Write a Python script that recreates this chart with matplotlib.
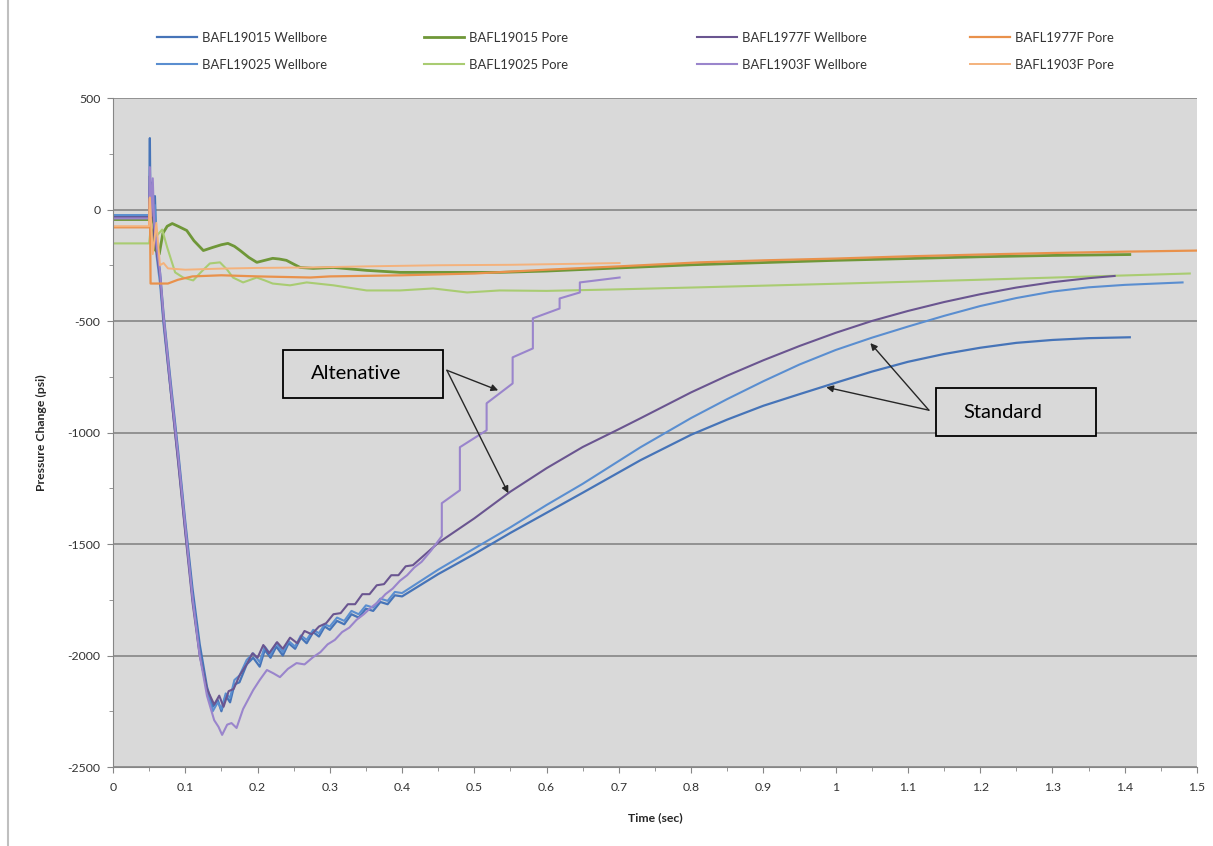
import matplotlib
matplotlib.use('Agg')
import matplotlib.pyplot as plt
from matplotlib.ticker import MultipleLocator, FuncFormatter
from matplotlib.lines import Line2D
from matplotlib.patches import Rectangle

plt.rcParams['font.family'] = ['Lato', 'DejaVu Sans']

# ---- data (time in sec, pressure change in psi) ----
t_19015_wb = [0.000, 0.050, 0.051, 0.052, 0.054, 0.056, 0.058, 0.060, 0.065, 0.070,
              0.080, 0.090, 0.100, 0.110, 0.120, 0.130, 0.138, 0.145, 0.150, 0.156,
              0.162, 0.168, 0.175, 0.185, 0.194, 0.203, 0.210, 0.218, 0.226, 0.235,
              0.243, 0.252, 0.260, 0.268, 0.277, 0.285, 0.293, 0.300, 0.310, 0.320,
              0.330, 0.340, 0.350, 0.360, 0.370, 0.380, 0.390, 0.400, 0.450, 0.500,
              0.550, 0.600, 0.650, 0.730, 0.800, 0.850, 0.900, 0.950, 1.000, 1.050,
              1.100, 1.150, 1.200, 1.250, 1.300, 1.350, 1.407]
p_19015_wb = [-30, -30, 320, -60, 120, -80, 60, -150, -280, -470,
              -780, -1080, -1400, -1700, -1950, -2140, -2230, -2200, -2250, -2180,
              -2210, -2130, -2120, -2040, -2010, -2050, -1975, -2010, -1960, -2000,
              -1945, -1970, -1920, -1945, -1895, -1915, -1870, -1885, -1845, -1860,
              -1815, -1830, -1790, -1800, -1760, -1770, -1730, -1735, -1635, -1545,
              -1450, -1360, -1270, -1124, -1010, -942, -880, -828, -777, -727,
              -683, -648, -620, -598, -585, -577, -573]

t_19025_wb = [0.000, 0.050, 0.051, 0.052, 0.054, 0.056, 0.058, 0.060, 0.065, 0.070,
              0.080, 0.090, 0.100, 0.110, 0.120, 0.130, 0.138, 0.145, 0.150, 0.156,
              0.162, 0.168, 0.175, 0.185, 0.194, 0.203, 0.210, 0.218, 0.226, 0.235,
              0.243, 0.252, 0.260, 0.268, 0.277, 0.285, 0.293, 0.300, 0.310, 0.320,
              0.330, 0.340, 0.350, 0.360, 0.370, 0.380, 0.390, 0.400, 0.450, 0.500,
              0.550, 0.600, 0.650, 0.730, 0.800, 0.850, 0.900, 0.950, 1.000, 1.050,
              1.100, 1.150, 1.200, 1.250, 1.300, 1.350, 1.400, 1.480]
p_19025_wb = [-25, -25, 100, -120, 60, -160, 20, -200, -330, -520,
              -820, -1120, -1440, -1740, -1990, -2160, -2250, -2210, -2240, -2170,
              -2190, -2110, -2090, -2020, -1990, -2030, -1960, -1995, -1945, -1985,
              -1935, -1960, -1910, -1930, -1885, -1900, -1860, -1870, -1830, -1845,
              -1800, -1815, -1775, -1785, -1745, -1755, -1715, -1720, -1615, -1520,
              -1425, -1325, -1230, -1066, -935, -850, -770, -695, -630, -575,
              -525, -477, -433, -397, -368, -349, -338, -327]

t_1977f_wb = [0.000, 0.050, 0.051, 0.053, 0.055, 0.057, 0.060, 0.065, 0.070, 0.080,
              0.090, 0.100, 0.110, 0.120, 0.130, 0.140, 0.147, 0.153, 0.160, 0.167,
              0.175, 0.185, 0.193, 0.200, 0.208, 0.216, 0.227, 0.235, 0.245, 0.255,
              0.265, 0.275, 0.285, 0.295, 0.305, 0.315, 0.325, 0.335, 0.345, 0.355,
              0.365, 0.375, 0.385, 0.395, 0.405, 0.415, 0.450, 0.500, 0.550, 0.600,
              0.650, 0.700, 0.730, 0.800, 0.850, 0.900, 0.950, 1.000, 1.050, 1.100,
              1.150, 1.200, 1.250, 1.300, 1.350, 1.386]
p_1977f_wb = [-35, -35, 150, -50, 100, -120, -180, -300, -500, -820,
              -1130, -1450, -1760, -2000, -2150, -2220, -2180, -2230, -2160, -2150,
              -2090, -2040, -1990, -2010, -1953, -1990, -1940, -1970, -1920, -1945,
              -1890, -1905, -1870, -1855, -1815, -1810, -1770, -1770, -1725, -1725,
              -1685, -1680, -1640, -1640, -1600, -1595, -1495, -1385, -1265, -1160,
              -1065, -985, -936, -820, -745, -676, -612, -553, -500, -455,
              -415, -380, -350, -326, -308, -298]

t_1903f_wb = [0.000, 0.050, 0.051, 0.053, 0.055, 0.057, 0.060, 0.065, 0.070, 0.080,
              0.090, 0.100, 0.110, 0.120, 0.130, 0.140, 0.146, 0.151, 0.158, 0.164,
              0.171, 0.180, 0.194, 0.203, 0.213, 0.222, 0.231, 0.242, 0.254, 0.265,
              0.277, 0.287, 0.297, 0.307, 0.317, 0.327, 0.337, 0.347, 0.357, 0.367,
              0.377, 0.387, 0.397, 0.407, 0.417, 0.427, 0.440, 0.455, 0.455, 0.480,
              0.480, 0.517, 0.517, 0.553, 0.553, 0.581, 0.581, 0.618, 0.618, 0.646,
              0.646, 0.701]
p_1903f_wb = [-40, -40, 190, -30, 140, -60, -150, -280, -480, -800,
              -1100, -1420, -1740, -2000, -2180, -2290, -2320, -2356, -2310, -2303,
              -2325, -2240, -2155, -2110, -2065, -2080, -2097, -2060, -2034, -2040,
              -2007, -1985, -1950, -1930, -1895, -1875, -1840, -1815, -1785, -1760,
              -1725, -1700, -1665, -1640, -1605, -1580, -1530, -1465, -1317, -1259,
              -1066, -990, -869, -780, -663, -623, -488, -444, -399, -372,
              -327, -305]

t_19015_pore = [0.000, 0.050, 0.053, 0.058, 0.064, 0.069, 0.075, 0.082, 0.090, 0.102,
                0.112, 0.125, 0.138, 0.150, 0.159, 0.168, 0.176, 0.188, 0.199, 0.210,
                0.221, 0.230, 0.240, 0.250, 0.259, 0.277, 0.305, 0.351, 0.397, 0.443,
                0.535, 0.600, 0.700, 0.800, 0.900, 1.000, 1.100, 1.200, 1.300, 1.407]
p_19015_pore = [-45, -45, 40, -180, -200, -107, -75, -63, -75, -94,
                -140, -184, -170, -158, -152, -165, -184, -215, -237, -228,
                -219, -222, -228, -245, -260, -264, -260, -273, -282, -282,
                -282, -276, -262, -248, -238, -228, -220, -212, -206, -202]

t_19025_pore = [0.000, 0.050, 0.053, 0.060, 0.068, 0.075, 0.086, 0.097, 0.111, 0.122,
                0.134, 0.148, 0.158, 0.166, 0.180, 0.199, 0.210, 0.221, 0.245, 0.268,
                0.305, 0.351, 0.397, 0.443, 0.490, 0.535, 0.600, 0.700, 0.812, 1.000,
                1.200, 1.490]
p_19025_pore = [-152, -152, -60, -120, -90, -170, -282, -305, -318, -280,
                -242, -237, -270, -305, -327, -305, -318, -332, -340, -327,
                -340, -363, -363, -354, -372, -363, -365, -358, -349, -333,
                -315, -287]

t_1977f_pore = [0.000, 0.050, 0.051, 0.052, 0.076, 0.090, 0.110, 0.150, 0.200, 0.273,
                0.300, 0.400, 0.500, 0.600, 0.700, 0.812, 0.900, 1.000, 1.100, 1.200,
                1.300, 1.400, 1.504]
p_1977f_pore = [-80, -80, 50, -332, -332, -315, -300, -295, -300, -305,
                -300, -295, -287, -270, -255, -237, -228, -220, -210, -202,
                -195, -189, -184]

t_1903f_pore = [0.000, 0.050, 0.051, 0.055, 0.060, 0.065, 0.070, 0.076, 0.100, 0.150,
                0.200, 0.273, 0.350, 0.450, 0.550, 0.650, 0.701]
p_1903f_pore = [-75, -75, 54, -200, -60, -250, -240, -264, -270, -265,
                -262, -260, -255, -250, -248, -243, -240]

labels = ['BAFL19015 Wellbore', 'BAFL19025 Wellbore', 'BAFL19015 Pore', 'BAFL19025 Pore',
          'BAFL1977F Wellbore', 'BAFL1903F Wellbore', 'BAFL1977F Pore', 'BAFL1903F Pore']

W, H = 1213, 846
fig = plt.figure(figsize=(W / 100, H / 100), dpi=100)
ax = fig.add_axes([113 / W, 1 - 767 / H, (1197 - 113) / W, (767 - 98) / H])
ax.set_facecolor('#D9D9D9')

series = [
    (t_19015_wb, p_19015_wb, '#4674B8', 1.6),
    (t_19025_wb, p_19025_wb, '#5A8ED0', 1.5),
    (t_19015_pore, p_19015_pore, '#6F9738', 2.0),
    (t_19025_pore, p_19025_pore, '#A9CC72', 1.5),
    (t_1977f_wb, p_1977f_wb, '#6A5590', 1.5),
    (t_1903f_wb, p_1903f_wb, '#9A85CC', 1.5),
    (t_1977f_pore, p_1977f_pore, '#E9914B', 1.6),
    (t_1903f_pore, p_1903f_pore, '#F4B27C', 1.4),
]
handles = []
for (t, p, c, lw), lab in zip(series, labels):
    h, = ax.plot(t, p, color=c, lw=lw, label=lab, solid_joinstyle='round')
    handles.append(h)

ax.set_xlim(0, 1.5)
ax.set_ylim(-2500, 500)
ax.xaxis.set_major_locator(MultipleLocator(0.1))
ax.xaxis.set_minor_locator(MultipleLocator(0.05))
ax.yaxis.set_major_locator(MultipleLocator(500))
ax.yaxis.set_minor_locator(MultipleLocator(250))
ax.xaxis.set_major_formatter(FuncFormatter(lambda v, pos: '%g' % round(v, 2)))
ax.yaxis.set_major_formatter(FuncFormatter(lambda v, pos: '%d' % v))

ax.yaxis.grid(True, which='major', color='#8C8C8C', lw=1.3)
ax.set_axisbelow(True)
for s in ['top', 'right']:
    ax.spines[s].set_visible(False)
for s in ['left', 'bottom']:
    ax.spines[s].set_color('#868686')
ax.tick_params(axis='both', which='major', direction='out', length=4, color='#868686',
               labelsize=8.8, labelcolor='#333333')
ax.tick_params(axis='both', which='minor', direction='out', length=3, color='#868686')
ax.tick_params(axis='y', pad=5)
ax.tick_params(axis='x', pad=7)

ax.set_xlabel('Time (sec)', fontsize=8.8, fontweight='bold', color='#262626')
ax.xaxis.set_label_coords(0.5, -0.068)
ax.set_ylabel('Pressure Change (psi)', fontsize=8.8, fontweight='bold', color='#262626')
ax.yaxis.set_label_coords(-0.061, 0.5)

fig.canvas.draw()
ax.get_ygridlines()[-1].set_visible(False)

# legend, four columns of two rows
col_x = [157, 424, 697, 970]
for i, x in enumerate(col_x):
    fig.legend(handles=handles[2 * i:2 * i + 2], loc='upper left',
               bbox_to_anchor=(x / W, 1 - 32 / H), frameon=False, fontsize=9.4,
               handlelength=3.1, handletextpad=0.35, labelspacing=1.15,
               borderpad=0, borderaxespad=0, labelcolor='#333333')

# callout boxes
ax.add_patch(Rectangle((0.235, -847), 0.222, 215, facecolor='#D9D9D9',
                       edgecolor='black', lw=1.3, zorder=5))
ax.text(0.336, -737, 'Altenative', fontsize=14.5, ha='center', va='center', zorder=6)
ax.add_patch(Rectangle((1.139, -1017), 0.221, 215, facecolor='#D9D9D9',
                       edgecolor='black', lw=1.3, zorder=5))
ax.text(1.231, -909, 'Standard', fontsize=14.5, ha='center', va='center', zorder=6)

arrow = dict(arrowstyle='-|>', color='#262626', lw=1.0, mutation_scale=10,
             shrinkA=0, shrinkB=0)
for tip in [(0.533, -811), (0.547, -1272)]:
    ax.annotate('', xy=tip, xytext=(0.462, -721), arrowprops=arrow, zorder=6)
for tip in [(1.048, -599), (0.987, -797)]:
    ax.annotate('', xy=tip, xytext=(1.129, -900), arrowprops=arrow, zorder=6)

fig.add_artist(Line2D([8 / W, 8 / W], [0, 1], color='#BFBFBF', lw=1.5))

fig.savefig('out.png', dpi=100, facecolor='white')
